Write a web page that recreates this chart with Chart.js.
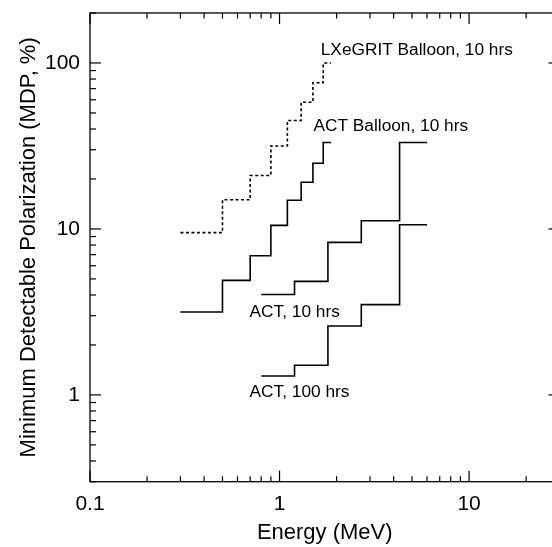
<!DOCTYPE html>
<html>
<head>
<meta charset="utf-8">
<script src="https://cdn.jsdelivr.net/npm/chart.js@4"></script>
<style>
  html, body { margin: 0; padding: 0; background: #fff; overflow: hidden; }
  #wrap { width: 552px; height: 547px; overflow: hidden; position: relative; }
  canvas { display: block; }
</style>
</head>
<body>
<div id="wrap"><canvas id="c" width="562" height="547"></canvas></div>
<script>
// ---- data ----
const lxeEdges = [0.3, 0.5, 0.7, 0.9, 1.1, 1.3, 1.5, 1.7, 1.87];
const lxeMdp = [9.5, 15, 21, 31.6, 45, 58, 76, 100];
const actBalloonEdges = [0.3, 0.5, 0.7, 0.9, 1.1, 1.3, 1.5, 1.7, 1.87];
const actBalloonMdp = [3.16, 4.9, 6.9, 10.5, 14.9, 19.1, 24.9, 33.2];
const act10Edges = [0.8, 1.2, 1.8, 2.7, 4.3, 6.0];
const act10Mdp = [4.03, 4.83, 8.3, 11.2, 33.2];
const act100Edges = [0.8, 1.2, 1.8, 2.7, 4.3, 6.0];
const act100Mdp = [1.3, 1.51, 2.6, 3.5, 10.6];

const xTickValues = [0.1, 1, 10];
const xTickLabels = ["0.1", "1", "10"];
const xMinorTicks = [0.2, 0.3, 0.4, 0.5, 0.6, 0.7, 0.8, 0.9, 2, 3, 4, 5, 6, 7, 8, 9, 20];
const yTickValues = [1, 10, 100];
const yTickLabels = ["1", "10", "100"];
const yMinorTicks = [0.3, 0.4, 0.5, 0.6, 0.7, 0.8, 0.9, 2, 3, 4, 5, 6, 7, 8, 9, 20, 30, 40, 50, 60, 70, 80, 90, 200];

const curveNames = ["LXeGRIT Balloon, 10 hrs", "ACT Balloon, 10 hrs", "ACT, 10 hrs", "ACT, 100 hrs"];

// annotation anchors (data units) kept apart from the data
const labelAnchors = {
  "LXeGRIT Balloon, 10 hrs": [1.65, 120],
  "ACT Balloon, 10 hrs": [1.51, 41.3],
  "ACT, 10 hrs": [0.695, 3.17],
  "ACT, 100 hrs": [0.695, 1.04]
};

function stepPoints(edges, vals) {
  const pts = vals.map((v, i) => ({ x: edges[i], y: v }));
  pts.push({ x: edges[edges.length - 1], y: vals[vals.length - 1] });
  return pts;
}

const FONT = "'Liberation Sans', Arial, Helvetica, sans-serif";

const frameTicks = {
  id: 'frameTicks',
  afterDatasetsDraw(chart) {
    const { ctx, chartArea: { left, right, top, bottom }, scales: { x, y } } = chart;
    ctx.save();
    ctx.strokeStyle = '#000';
    ctx.lineWidth = 1.3;
    ctx.strokeRect(left, top, right - left, bottom - top);
    const seg = (x1, y1, x2, y2) => { ctx.beginPath(); ctx.moveTo(x1, y1); ctx.lineTo(x2, y2); ctx.stroke(); };
    ctx.lineWidth = 1.2;
    xMinorTicks.forEach(v => { const p = x.getPixelForValue(v); seg(p, bottom, p, bottom - 5.5); seg(p, top, p, top + 5.5); });
    xTickValues.forEach(v => { const p = x.getPixelForValue(v); seg(p, bottom, p, bottom - 11); seg(p, top, p, top + 11); });
    yMinorTicks.forEach(v => { const p = y.getPixelForValue(v); seg(left, p, left + 6, p); });
    yTickValues.forEach(v => { const p = y.getPixelForValue(v); seg(left, p, left + 11, p); seg(right, p, right - 11, p); });
    // curve labels
    ctx.fillStyle = '#000';
    ctx.font = '17.3px ' + FONT;
    ctx.textAlign = 'left';
    ctx.textBaseline = 'middle';
    curveNames.forEach(n => {
      const a = labelAnchors[n];
      ctx.fillText(n, x.getPixelForValue(a[0]), y.getPixelForValue(a[1]));
    });
    ctx.restore();
  }
};

new Chart(document.getElementById('c'), {
  type: 'line',
  data: {
    datasets: [
      { label: curveNames[0], data: stepPoints(lxeEdges, lxeMdp), stepped: 'before', borderColor: '#000', borderWidth: 1.6, borderDash: [3, 2.5], pointRadius: 0, fill: false },
      { label: curveNames[1], data: stepPoints(actBalloonEdges, actBalloonMdp), stepped: 'before', borderColor: '#000', borderWidth: 1.6, pointRadius: 0, fill: false },
      { label: curveNames[2], data: stepPoints(act10Edges, act10Mdp), stepped: 'before', borderColor: '#000', borderWidth: 1.6, pointRadius: 0, fill: false },
      { label: curveNames[3], data: stepPoints(act100Edges, act100Mdp), stepped: 'before', borderColor: '#000', borderWidth: 1.6, pointRadius: 0, fill: false }
    ]
  },
  options: {
    responsive: false,
    animation: false,
    layout: { padding: { left: 0, right: 2.5, top: 13, bottom: 0 } },
    plugins: { legend: { display: false }, tooltip: { enabled: false } },
    scales: {
      x: {
        type: 'logarithmic', min: 0.1, max: 30,
        grid: { display: false, drawTicks: false },
        border: { display: false },
        afterBuildTicks: s => { s.ticks = xTickValues.map(v => ({ value: v })); },
        afterFit: s => { s.height = 65.3; s.paddingLeft = 0; s.paddingRight = 0; },
        ticks: {
          color: '#000', font: { family: FONT, size: 21 }, padding: 9.5, maxRotation: 0, autoSkip: false,
          callback: v => xTickLabels[xTickValues.indexOf(v)] ?? ''
        },
        title: { display: true, text: 'Energy (MeV)', color: '#000', font: { family: FONT, size: 22 }, padding: { top: 0, bottom: 1 } }
      },
      y: {
        type: 'logarithmic', min: 0.3, max: 200,
        grid: { display: false, drawTicks: false },
        border: { display: false },
        afterBuildTicks: s => { s.ticks = yTickValues.map(v => ({ value: v })); },
        afterFit: s => { s.width = 90; s.paddingTop = 0; s.paddingBottom = 0; },
        ticks: {
          color: '#000', font: { family: FONT, size: 21 }, padding: 10, autoSkip: false,
          callback: v => yTickLabels[yTickValues.indexOf(v)] ?? ''
        },
        title: { display: true, text: 'Minimum Detectable Polarization (MDP, %)', color: '#000', font: { family: FONT, size: 22 }, padding: { top: 16, bottom: 0 } }
      }
    }
  },
  plugins: [frameTicks]
});
</script>
</body>
</html>
